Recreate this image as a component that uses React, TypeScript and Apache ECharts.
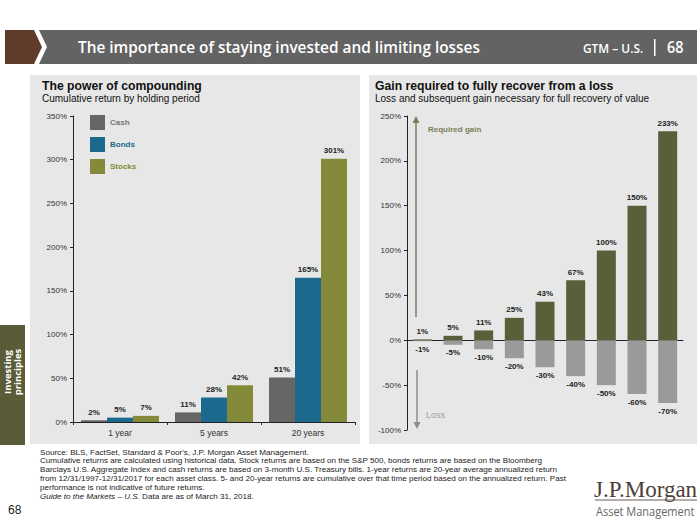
import React, { useEffect, useRef } from "react";
import * as echarts from "echarts";

const periods = ["1 year", "5 years", "20 years"];
const cashReturns = [2, 11, 51];
const bondReturns = [5, 28, 165];
const stockReturns = [7, 42, 301];
const leftTicks = [0, 350, 50];

const lossCases = ["-1%", "-5%", "-10%", "-20%", "-30%", "-40%", "-50%", "-60%", "-70%"];
const requiredGain = [1, 5, 11, 25, 43, 67, 100, 150, 233];
const lossValues = [-1, -5, -10, -20, -30, -40, -50, -60, -70];
const rightTicks = [-100, 250, 50];

const footLines = [
  "Source: BLS, FactSet, Standard & Poor's, J.P. Morgan Asset Management.",
  "Cumulative returns are calculated using historical data. Stock returns are based on the S&P 500, bonds returns are based on the Bloomberg",
  "Barclays U.S. Aggregate Index and cash returns are based on 3-month U.S. Treasury bills. 1-year returns are 20-year average annualized return",
  "from 12/31/1997-12/31/2017 for each asset class. 5- and 20-year returns are cumulative over that time period based on the annualized return. Past",
  "performance is not indicative of future returns.",
];

const SANS = '"Liberation Sans", Arial, sans-serif';

export default function App() {
  const ref = useRef<HTMLDivElement>(null);
  useEffect(() => {
    if (!ref.current) return;
    const chart = echarts.init(ref.current, undefined, { renderer: "svg" });
    const axisLabel = { fontSize: 8, color: "#333", fontFamily: SANS, margin: 6 };
    const axisLine = { show: true, lineStyle: { color: "#222", width: 1 } };
    const barLabel = {
      show: true,
      formatter: "{c}%",
      fontSize: 8,
      fontWeight: "bold" as const,
      color: "#222",
      fontFamily: SANS,
      distance: 4,
    };
    const txt = (x: number, y: number, text: string, font: string, fill: string, extra: any = {}) => ({
      type: "text",
      x,
      y,
      silent: true,
      ...extra,
      style: { text, font, fill, textVerticalAlign: "middle", verticalAlign: "middle", ...(extra.style || {}) },
    });
    const graphics: any[] = [
      // header
      { type: "polygon", shape: { points: [[5, 30], [34, 30], [42, 47], [34, 64], [5, 64]] }, style: { fill: "#5f3b2b" } },
      { type: "polygon", shape: { points: [[39, 30], [697, 30], [697, 64], [39, 64], [47, 47]] }, style: { fill: "#636363" } },
      txt(78, 47, "The importance of staying invested and limiting losses", '600 17px "Open Sans"', "#fff", { scaleX: 0.905 }),
      txt(583, 48, "GTM – U.S.", '600 12.5px "Open Sans"', "#fff", { scaleX: 0.95 }),
      { type: "rect", shape: { x: 654, y: 39, width: 1.5, height: 17 }, style: { fill: "#fff" } },
      txt(667, 47, "68", '600 16px "Open Sans"', "#fff", { scaleX: 0.9 }),
      // panels
      { type: "rect", z: -10, shape: { x: 30, y: 75, width: 330, height: 369 }, style: { fill: "#e7e7e7" } },
      { type: "rect", z: -10, shape: { x: 369, y: 75, width: 328, height: 369 }, style: { fill: "#e7e7e7" } },
      txt(42, 86, "The power of compounding", `bold 12.2px ${SANS}`, "#111"),
      txt(42, 98, "Cumulative return by holding period", `10px ${SANS}`, "#111"),
      txt(375, 86, "Gain required to fully recover from a loss", `bold 12.2px ${SANS}`, "#111"),
      txt(375, 98, "Loss and subsequent gain necessary for full recovery of value", `10px ${SANS}`, "#111"),
      // arrows right chart
      { type: "line", shape: { x1: 416, y1: 122, x2: 416, y2: 317 }, style: { stroke: "#7b7f5c", lineWidth: 1.5 } },
      { type: "polygon", shape: { points: [[412.5, 123], [416, 116], [419.5, 123]] }, style: { fill: "#7b7f5c" } },
      txt(428, 129, "Required gain", `bold 8px ${SANS}`, "#7b7f5c"),
      { type: "line", shape: { x1: 417, y1: 370, x2: 417, y2: 423 }, style: { stroke: "#8e8e8e", lineWidth: 1.5 } },
      { type: "polygon", shape: { points: [[413.5, 422], [417, 429], [420.5, 422]] }, style: { fill: "#8e8e8e" } },
      txt(426, 415, "Loss", `9px ${SANS}`, "#a0a0a0"),
      // side tab
      { type: "rect", shape: { x: 0, y: 325, width: 25, height: 120 }, style: { fill: "#5a5c38" } },
      {
        type: "text",
        x: 12.5,
        y: 372,
        rotation: Math.PI / 2,
        silent: true,
        style: {
          text: "Investing\nprinciples",
          font: `bold 9.5px "Open Sans"`,
          fill: "#fff",
          textAlign: "center",
          align: "center",
          textVerticalAlign: "middle",
          verticalAlign: "middle",
          lineHeight: 10.5,
        },
      },
      // footer
      ...footLines.map((l, i) => txt(40, 452 + i * 8.9, l, `8.1px ${SANS}`, "#222")),
      {
        type: "text",
        x: 40,
        y: 452 + 5 * 8.9,
        silent: true,
        style: {
          text: "{i|Guide to the Markets – U.S.} Data are as of March 31, 2018.",
          font: `8.1px ${SANS}`,
          fill: "#222",
          textVerticalAlign: "middle",
          verticalAlign: "middle",
          rich: { i: { fontStyle: "italic", fontSize: 8.1, fontFamily: SANS, fill: "#222", color: "#222" } },
        },
      },
      txt(8, 510, "68", `12px ${SANS}`, "#222"),
      // logo
      txt(594, 489, "J.P.Morgan", `23px "Liberation Serif", serif`, "#4d4038", { scaleX: 1.0 }),
      { type: "line", shape: { x1: 595, y1: 500, x2: 697, y2: 500 }, style: { stroke: "#6a5e56", lineWidth: 1 } },
      txt(596, 511, "Asset Management", `12.5px "Open Sans"`, "#666", { scaleX: 0.88 }),
    ];

    chart.setOption({
      animation: false,
      graphic: graphics,
      legend: {
        orient: "vertical",
        left: 90,
        top: 115,
        padding: 0,
        itemWidth: 15,
        itemHeight: 15,
        itemGap: 7,
        icon: "rect",
        textStyle: { fontSize: 8, fontWeight: "bold", fontFamily: SANS },
        data: [
          { name: "Cash", textStyle: { color: "#777" } },
          { name: "Bonds", textStyle: { color: "#1b6a8e" } },
          { name: "Stocks", textStyle: { color: "#848a3a" } },
        ],
      },
      grid: [
        { left: 73, top: 116, width: 282, height: 306 },
        { left: 407, top: 116, width: 276, height: 314 },
      ],
      xAxis: [
        {
          gridIndex: 0,
          type: "category",
          data: periods,
          axisLine,
          axisTick: { show: true, length: 3, lineStyle: { color: "#222" } },
          axisLabel: { ...axisLabel, fontSize: 8.5 },
        },
        {
          gridIndex: 1,
          type: "category",
          data: lossCases,
          axisLine: { ...axisLine, onZero: true },
          axisTick: { show: false },
          axisLabel: { show: false },
        },
      ],
      yAxis: [
        {
          gridIndex: 0,
          type: "value",
          min: leftTicks[0],
          max: leftTicks[1],
          interval: leftTicks[2],
          axisLine,
          axisTick: { show: true, length: 3, lineStyle: { color: "#222" } },
          splitLine: { show: false },
          axisLabel: { ...axisLabel, formatter: "{value}%" },
        },
        {
          gridIndex: 1,
          type: "value",
          min: rightTicks[0],
          max: rightTicks[1],
          interval: rightTicks[2],
          axisLine: { ...axisLine, onZero: false },
          axisTick: { show: true, length: 3, lineStyle: { color: "#222" } },
          splitLine: { show: false },
          axisLabel: { ...axisLabel, formatter: "{value}%" },
        },
      ],
      series: [
        { name: "Cash", type: "bar", xAxisIndex: 0, yAxisIndex: 0, data: cashReturns, barWidth: 26, barGap: 0, itemStyle: { color: "#666666" }, label: { ...barLabel, position: "top" } },
        { name: "Bonds", type: "bar", xAxisIndex: 0, yAxisIndex: 0, data: bondReturns, barWidth: 26, barGap: 0, itemStyle: { color: "#1b6a8e" }, label: { ...barLabel, position: "top" } },
        { name: "Stocks", type: "bar", xAxisIndex: 0, yAxisIndex: 0, data: stockReturns, barWidth: 26, barGap: 0, itemStyle: { color: "#848a3a" }, label: { ...barLabel, position: "top" } },
        { name: "Gain", type: "bar", xAxisIndex: 1, yAxisIndex: 1, data: requiredGain, barWidth: 19, barGap: "-100%", itemStyle: { color: "#5a5f3a" }, label: { ...barLabel, position: "top" } },
        { name: "Loss", type: "bar", xAxisIndex: 1, yAxisIndex: 1, data: lossValues, barWidth: 19, barGap: "-100%", itemStyle: { color: "#9a9a9a" }, label: { ...barLabel, position: "bottom" } },
      ],
    });
    return () => chart.dispose();
  }, []);
  return (
    <div
      ref={ref}
      style={{ position: "fixed", left: 0, top: 0, width: 700, height: 525, background: "#fff" }}
    />
  );
}
